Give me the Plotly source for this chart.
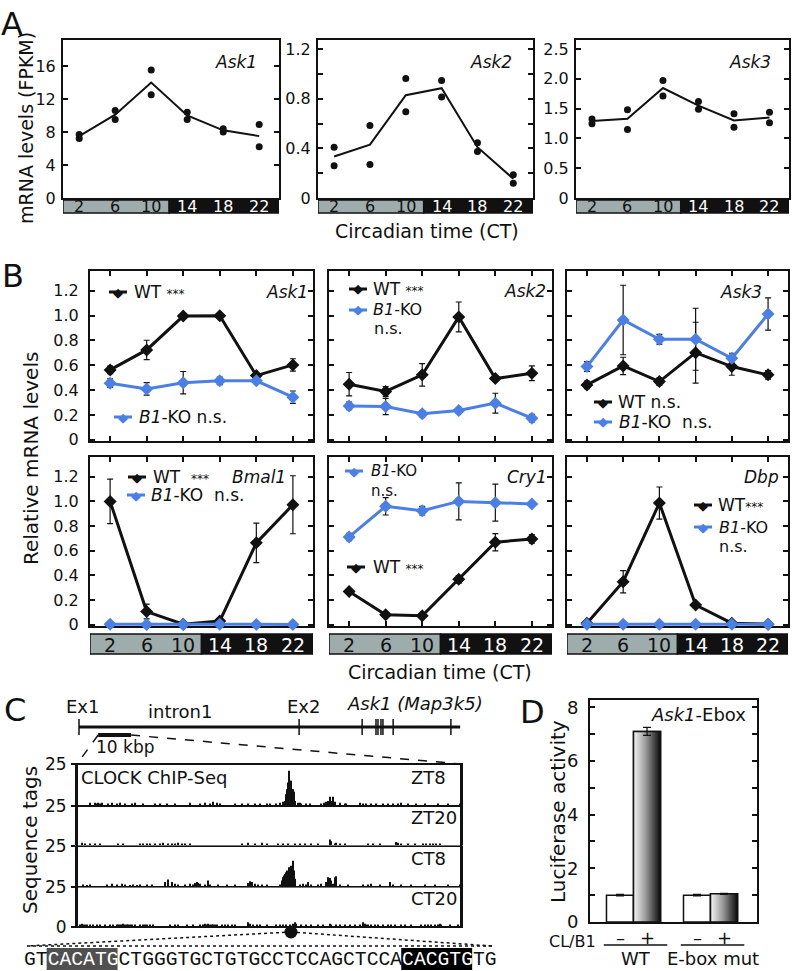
import plotly.graph_objects as go

W, H = 796, 971
FONT = "DejaVu Sans"
MONO = "Liberation Mono"
INK = "#111111"
BLUE = "#4a7fe6"
STRIP_GRAY = "#9eacab"

# ------------------------------------------------------------------ data
ct = [2, 6, 10, 14, 18, 22]
DAY_END = 12  # subjective day (grey) / night (black) boundary

# Panel A - RNA-seq FPKM (two replicates + mean)
a_ask1_rep1 = [7.7, 10.6, 15.5, 10.4, 8.4, 8.9]
a_ask1_rep2 = [7.2, 9.5, 12.5, 9.5, 8.0, 6.2]
a_ask1_mean = [7.5, 10.1, 14.0, 10.0, 8.2, 7.5]
a_ask2_rep1 = [0.41, 0.585, 0.964, 0.948, 0.446, 0.188]
a_ask2_rep2 = [0.26, 0.27, 0.695, 0.816, 0.376, 0.12]
a_ask2_mean = [0.335, 0.43, 0.83, 0.886, 0.41, 0.155]
a_ask3_rep1 = [1.325, 1.48, 1.97, 1.62, 1.415, 1.437]
a_ask3_rep2 = [1.247, 1.15, 1.71, 1.49, 1.186, 1.264]
a_ask3_mean = [1.29, 1.33, 1.845, 1.55, 1.30, 1.35]
a_genes = ["Ask1", "Ask2", "Ask3"]

# Panel B - relative mRNA levels (WT vs Bmal1-KO)
b_genes = ["Ask1", "Ask2", "Ask3", "Bmal1", "Cry1", "Dbp"]
b_ask1_wt = [0.563, 0.724, 0.997, 1.0, 0.517, 0.603]
b_ask1_wt_err = [0.03, 0.078, 0.012, 0.012, 0.02, 0.05]
b_ask1_ko = [0.456, 0.41, 0.46, 0.475, 0.475, 0.343]
b_ask1_ko_err = [0.035, 0.05, 0.09, 0.03, 0.02, 0.05]
b_ask2_wt = [0.448, 0.389, 0.523, 0.99, 0.493, 0.536]
b_ask2_wt_err = [0.094, 0.04, 0.09, 0.12, 0.02, 0.06]
b_ask2_ko = [0.273, 0.268, 0.209, 0.236, 0.295, 0.174]
b_ask2_ko_err = [0.03, 0.065, 0.025, 0.015, 0.08, 0.03]
b_ask3_wt = [0.442, 0.595, 0.469, 0.702, 0.59, 0.523]
b_ask3_wt_err = [0.03, 0.07, 0.03, 0.245, 0.07, 0.035]
b_ask3_ko = [0.59, 0.965, 0.81, 0.81, 0.657, 1.013]
b_ask3_ko_err = [0.04, 0.28, 0.04, 0.25, 0.04, 0.13]
b_bmal1_wt = [1.0, 0.107, 0.005, 0.03, 0.664, 0.973]
b_bmal1_wt_err = [0.18, 0.06, 0.005, 0.01, 0.16, 0.235]
b_bmal1_ko = [0.004, 0.003, 0.003, 0.004, 0.003, 0.003]
b_bmal1_ko_err = [0.002, 0.002, 0.002, 0.002, 0.002, 0.002]
b_cry1_wt = [0.269, 0.081, 0.073, 0.368, 0.669, 0.696]
b_cry1_wt_err = [0.01, 0.01, 0.01, 0.03, 0.07, 0.035]
b_cry1_ko = [0.712, 0.96, 0.925, 1.0, 0.99, 0.98]
b_cry1_ko_err = [0.03, 0.07, 0.035, 0.15, 0.15, 0.01]
b_dbp_wt = [0.013, 0.349, 0.987, 0.16, 0.013, 0.005]
b_dbp_wt_err = [0.005, 0.09, 0.13, 0.015, 0.005, 0.003]
b_dbp_ko = [0.004, 0.004, 0.004, 0.004, 0.004, 0.004]
b_dbp_ko_err = [0.002, 0.002, 0.002, 0.002, 0.002, 0.002]

# Panel C - gene model (kb from exon 1) and CLOCK ChIP-seq tag counts
gene_exons_kb = [0, 66.7, 85.8, 90.0, 90.6, 91.5, 92.1, 95.2, 112.7]
gene_end_kb = 115.5
scalebar_kb = [5.8, 15.8]
chip_tracks = ["ZT8", "ZT20", "CT8", "CT20"]
zt8_pos = [13, 18, 20, 21, 23, 25, 31, 35, 40, 43, 48, 55, 58, 66, 78, 83, 90, 98, 113, 123,
           128, 133, 136, 140, 143, 158, 165, 171, 178, 183, 190, 193, 199, 203, 206, 208, 209,
           210, 211, 212, 213, 214, 215, 216, 217, 218, 221, 223, 224, 229, 233, 244, 247, 249,
           251, 253, 254, 256, 258, 263, 268, 269, 283, 286, 289, 294, 299, 306, 311, 316, 321,
           324, 331, 339, 348, 361, 371, 383]
zt8_tags = [2, 2, 1.5, 2, 1.5, 2, 1.5, 2, 1.5, 2, 1.5, 1.5, 2, 1.5, 1.5, 1.5, 1.5, 1.5, 2, 1.5,
            2, 1.5, 2.5, 2, 1.5, 1.5, 1.5, 1.5, 1.5, 1.5, 1.5, 1.5, 1.5, 2, 2.5, 3, 7,
            10, 14, 21, 15, 15, 10, 10, 8.5, 3, 2, 2, 1.5, 1.5, 1.5, 1.5, 2, 2.5,
            3, 5.5, 3, 5.5, 2.5, 2, 1.5, 1.5, 2, 1.5, 1.5, 1.5, 1.5, 1.5, 1.5, 1.5, 1.5,
            2, 1.5, 1.5, 1.5, 1.5, 1.5, 1.5]
zt20_pos = [5, 8, 13, 18, 23, 41, 46, 63, 66, 70, 73, 78, 83, 86, 91, 95, 98, 101, 105, 108,
            113, 165, 171, 178, 185, 190, 201, 206, 211, 218, 223, 228, 234, 241, 253, 254, 258,
            259, 263, 268, 291, 296, 303, 319, 321, 324, 331, 338, 346, 349, 353, 356, 359, 363]
zt20_tags = [2, 1.5, 1.5, 1.5, 1.5, 1.5, 1.5, 1.5, 1.5, 1.5, 1.5, 1.5, 1.5, 2, 1.5, 1.5, 1.5,
             2, 1.5, 1.5, 1.5, 1.5, 2, 1.5, 2, 1.5, 1.5, 1.5, 1.5, 1.5, 1.5, 1.5, 1.5, 1.5, 4,
             3, 1.5, 2, 1.5, 1.5, 1.5, 1.5, 1.5, 2.5, 2, 1.5, 1.5, 1.5, 1.5, 1.5, 1.5, 1.5,
             1.5, 1.5]
ct8_pos = [6, 10, 13, 30, 35, 40, 45, 48, 53, 56, 60, 63, 70, 75, 88, 91, 95, 98, 101, 108,
           113, 116, 118, 120, 121, 123, 128, 131, 133, 141, 150, 158, 171, 173, 175, 178, 181,
           185, 190, 203, 205, 206, 207, 208, 209, 210, 211, 212, 213, 214, 215, 216, 217, 218,
           223, 226, 229, 231, 234, 241, 244, 249, 251, 253, 254, 256, 258, 259, 263, 271, 286,
           291, 294, 303, 313, 316, 324, 334, 348, 358, 371, 383]
ct8_tags = [1.5, 1, 1.5, 1.5, 2, 1.5, 2, 1.5, 1, 1.5, 1, 1.5, 1.5, 1.5, 3, 4.5, 3, 2, 1.5, 1.5,
            2, 1.5, 2.5, 3, 2.5, 2, 1.5, 4, 1.5, 1.5, 1.5, 1.5, 2.5, 3.5, 3, 2, 1.5, 1.5, 1.5,
            1.5, 4, 6, 7, 8, 9, 10, 9, 12, 9, 13, 9, 16, 10, 5, 1.5, 2, 1.5, 3, 1.5, 1.5, 2, 3,
            6, 5.5, 4, 2, 6, 6.5, 1.5, 1.5, 1.5, 1.5, 2, 1.5, 3, 1.5, 1.5, 1.5, 1.5, 1.5,
            1.5, 1.5]
ct20_pos = [3, 5, 6, 8, 10, 13, 16, 20, 23, 28, 33, 36, 40, 41, 43, 45, 46, 48, 50, 51, 53, 55,
            58, 63, 66, 68, 70, 73, 76, 93, 98, 101, 110, 116, 123, 126, 128, 130, 131, 133, 135,
            136, 138, 140, 145, 148, 151, 155, 158, 171, 173, 176, 180, 183, 190, 199, 203, 206,
            209, 213, 216, 218, 219, 224, 229, 234, 241, 246, 253, 254, 259, 263, 268, 273, 278,
            283, 286, 288, 289, 291, 294, 298, 301, 306, 311, 314, 318, 324, 328, 334, 344, 348,
            351, 354, 358, 361, 363, 364, 373, 381]
ct20_tags = [1.5, 2, 1.5, 1.5, 1.5, 1.5, 1.5, 1.5, 1.5, 1.5, 1.5, 1.5, 1.5, 1.5, 1.5, 1.5, 2,
             1.5, 1.5, 1.5, 1.5, 1.5, 1.5, 1.5, 1.5, 1.5, 1.5, 1.5, 1.5, 1.5, 1.5, 1.5, 1.5, 1.5,
             1.5, 1.5, 2, 1.5, 2, 1.5, 1.5, 1.5, 1.5, 1.5, 1.5, 1.5, 1.5, 1.5, 1.5, 3, 2, 1.5,
             1.5, 1.5, 1.5, 1.5, 1.5, 1.5, 1.5, 1.5, 2, 3, 2, 1.5, 1.5, 1.5, 1.5, 1.5, 2, 1.5,
             1.5, 1.5, 1.5, 1.5, 1.5, 1.5, 3, 2, 1.5, 1.5, 1.5, 1.5, 1.5, 1.5, 1.5, 1.5, 1.5,
             1.5, 1.5, 1.5, 1.5, 1.5, 1.5, 1.5, 1.5, 1.5, 2, 1.5, 1.5, 1.5]
ebox_pos = 214
sequence = "GTCACATGCTGGGTGCTGTGCCTCCAGCTCCACACGTGTG"
ebox_motifs = ["CACATG", "CACGTG"]

# Panel D - luciferase
d_construct = ["WT", "WT", "E-box mut", "E-box mut"]
d_clb1 = ["\u2013", "+", "\u2013", "+"]
d_values = [1.0, 7.1, 1.0, 1.05]
d_err = [0.03, 0.15, 0.03, 0.02]

# ------------------------------------------------------------------ helpers
fig = go.Figure()
layout = dict(template="none", width=W, height=H,
              margin=dict(l=0, r=0, t=0, b=0, pad=0, autoexpand=False),
              paper_bgcolor="white", plot_bgcolor="white", showlegend=False,
              font=dict(family=FONT, color=INK))
shapes, annotations = [], []


def fx(px):
    return px / W


def fy(py):
    return 1 - py / H


def refs(n):
    s = "" if n == 1 else str(n)
    return f"xaxis{s}", f"yaxis{s}", f"x{s}", f"y{s}"


def make_axes(n, box, xrange_, yrange_, xkw=None, ykw=None):
    x0, y0, x1, y1 = box
    xk, yk, xr, yr = refs(n)
    base = dict(showline=True, linecolor=INK, linewidth=2, mirror=True, showgrid=False,
                zeroline=False, ticks="", showticklabels=False, tickcolor=INK, tickwidth=1.5,
                ticklen=5, tickfont=dict(family=FONT, size=16, color=INK), fixedrange=True,
                automargin=False)
    xa = dict(base, domain=[x0 / W, x1 / W], range=xrange_, anchor=yr)
    ya = dict(base, domain=[1 - y1 / H, 1 - y0 / H], range=yrange_, anchor=xr)
    xa.update(xkw or {})
    ya.update(ykw or {})
    layout[xk] = xa
    layout[yk] = ya
    return xr, yr


def ann(x, y, text, size=17, xanchor="center", yanchor="middle", color=INK,
        xref="paper", yref="paper", angle=0, family=FONT):
    if xref == "paper":
        x = fx(x)
    if yref == "paper":
        y = fy(y)
    annotations.append(dict(x=x, y=y, xref=xref, yref=yref, text=text, showarrow=False,
                            xanchor=xanchor, yanchor=yanchor, textangle=angle,
                            font=dict(family=family, size=size, color=color), borderpad=0))


def pline(x0, y0, x1, y1, width=1.5, dash="solid", color=INK):
    shapes.append(dict(type="line", xref="paper", yref="paper", x0=fx(x0), y0=fy(y0),
                       x1=fx(x1), y1=fy(y1), line=dict(color=color, width=width, dash=dash)))


def add_strip(n, xrange_, top, bottom, size):
    xr = refs(n)[2]
    shapes.append(dict(type="rect", xref=xr, yref="paper", x0=xrange_[0], x1=DAY_END,
                       y0=fy(bottom), y1=fy(top), fillcolor=STRIP_GRAY,
                       line=dict(color=INK, width=1.5)))
    shapes.append(dict(type="rect", xref=xr, yref="paper", x0=DAY_END, x1=xrange_[1],
                       y0=fy(bottom), y1=fy(top), fillcolor=INK,
                       line=dict(color=INK, width=1.5)))
    for t in ct:
        ann(t, (top + bottom) / 2 + 0.5, str(t), size=size, xref=xr,
            color=INK if t < DAY_END else "white")


def legend_entry(cx, cy, color, text, tx, size=17):
    pline(cx - 9, cy, cx + 9, cy, width=3, color=color)
    ann(cx, cy, "\u25c6", size=13, color=color)
    ann(tx, cy, text, size=size, xanchor="left")


STARS = '<span style="font-size:12px">***</span>'

# ------------------------------------------------------------------ panel A
A_BOXES = [(63, 40, 279, 198), (318, 40, 533, 198), (576, 40, 789, 198)]
A_XRANGE = [0.2, 24.2]
a_data = [
    (a_ask1_rep1, a_ask1_rep2, a_ask1_mean, [0, 19.15], [0, 4, 8, 12, 16],
     ["0", "4", "8", "12", "16"]),
    (a_ask2_rep1, a_ask2_rep2, a_ask2_mean, [0, 1.275], [0, 0.2, 0.4, 0.6, 0.8, 1.0, 1.2],
     ["0", "", "0.4", "", "0.8", "", "1.2"]),
    (a_ask3_rep1, a_ask3_rep2, a_ask3_mean, [0, 2.65], [0, 0.5, 1.0, 1.5, 2.0, 2.5],
     ["0", "0.5", "1.0", "1.5", "2.0", "2.5"]),
]
a_label_right = [258, 513, 772]
for i, (r1, r2, mean, yrng, tv, tt) in enumerate(a_data):
    n = i + 1
    xr, yr = make_axes(n, A_BOXES[i], A_XRANGE, yrng,
                       ykw=dict(ticks="inside", mirror="ticks", tickvals=tv, ticktext=tt,
                                showticklabels=True, ticklabelstandoff=2))
    fig.add_trace(go.Scatter(x=ct, y=mean, mode="lines", line=dict(color=INK, width=2),
                             xaxis=xr, yaxis=yr, hoverinfo="skip"))
    fig.add_trace(go.Scatter(x=ct + ct, y=r1 + r2, mode="markers",
                             marker=dict(color=INK, size=7), xaxis=xr, yaxis=yr,
                             cliponaxis=False))
    add_strip(n, A_XRANGE, 200, 213, 16)
    ann(a_label_right[i], 62, f"<i>{a_genes[i]}</i>", size=17, xanchor="right")

ann(12, 24, "A", size=32)
ann(26, 128, "mRNA levels (FPKM)", size=19, angle=-90)
ann(427, 231, "Circadian time (CT)", size=19)

# ------------------------------------------------------------------ panel B
B_COLS = [(90, 313), (329, 552), (567, 788)]
B_ROWS = [(271, 441), (457, 626)]
B_XRANGE = [-0.2, 24.2]
B_YRANGE = [-0.01, 1.36]
b_data = [
    (b_ask1_wt, b_ask1_wt_err, b_ask1_ko, b_ask1_ko_err),
    (b_ask2_wt, b_ask2_wt_err, b_ask2_ko, b_ask2_ko_err),
    (b_ask3_wt, b_ask3_wt_err, b_ask3_ko, b_ask3_ko_err),
    (b_bmal1_wt, b_bmal1_wt_err, b_bmal1_ko, b_bmal1_ko_err),
    (b_cry1_wt, b_cry1_wt_err, b_cry1_ko, b_cry1_ko_err),
    (b_dbp_wt, b_dbp_wt_err, b_dbp_ko, b_dbp_ko_err),
]
b_yt = [0, 0.2, 0.4, 0.6, 0.8, 1.0, 1.2]
b_yl = ["0", "0.2", "0.4", "0.6", "0.8", "1.0", "1.2"]
b_label_pos = [(309, 292), (547, 291), (763, 292), (287, 477), (548, 477), (780, 477)]
for i, (wt, wte, ko, koe) in enumerate(b_data):
    n = 4 + i
    r, c = divmod(i, 3)
    box = (B_COLS[c][0], B_ROWS[r][0], B_COLS[c][1], B_ROWS[r][1])
    xr, yr = make_axes(
        n, box, B_XRANGE, B_YRANGE,
        xkw=dict(ticks="inside", mirror="ticks", tickvals=ct, layer="below traces"),
        ykw=dict(ticks="inside", mirror="ticks", tickvals=b_yt, ticktext=b_yl,
                 showticklabels=(c == 0), ticklabelstandoff=6, layer="below traces"))
    for vals, errs, color in [(wt, wte, INK), (ko, koe, BLUE)]:
        fig.add_trace(go.Scatter(
            x=ct, y=vals, mode="lines+markers", line=dict(color=color, width=3),
            marker=dict(symbol="diamond", size=10, color=color),
            error_y=dict(type="data", array=errs, color=INK, thickness=1.2, width=3),
            xaxis=xr, yaxis=yr, cliponaxis=False))
    if r == 1:
        add_strip(n, B_XRANGE, 634, 654, 19)
    ann(b_label_pos[i][0], b_label_pos[i][1], f"<i>{b_genes[i]}</i>", size=17,
        xanchor="right")

KO = "<i>B1</i>-KO"
legend_entry(118, 292, INK, "WT " + STARS, 133)
legend_entry(123, 417, BLUE, KO + " n.s.", 138)
legend_entry(358, 289, INK, "WT " + STARS, 372)
legend_entry(358, 310, BLUE, KO, 372, size=16)
ann(373, 329, "n.s.", size=16, xanchor="left")
legend_entry(603, 402, INK, "WT n.s.", 617)
legend_entry(603, 422, BLUE, KO + "  n.s.", 618)
legend_entry(137, 477, INK, "WT  " + STARS, 152)
legend_entry(136, 495, BLUE, KO + "  n.s.", 150)
legend_entry(354, 471, BLUE, KO, 370, size=15)
ann(370, 491, "n.s.", size=15, xanchor="left")
legend_entry(356, 567, INK, "WT " + STARS, 372)
legend_entry(703, 505, INK, "WT" + STARS, 717)
legend_entry(703, 527, BLUE, KO, 718, size=16)
ann(718, 546, "n.s.", size=16, xanchor="left")

ann(13, 276, "B", size=32)
ann(31, 459, "Relative mRNA levels", size=20, angle=-90)
ann(440, 672, "Circadian time (CT)", size=19)

# ------------------------------------------------------------------ panel C
GENE_BOX = (60, 692, 480, 762)
GENE_X0_PX, GENE_PX_PER_KB = 79, 3.3
gene_range = [(GENE_BOX[0] - GENE_X0_PX) / GENE_PX_PER_KB,
              (GENE_BOX[2] - GENE_X0_PX) / GENE_PX_PER_KB]
xr, yr = make_axes(10, GENE_BOX, gene_range, [-1, 1],
                   xkw=dict(visible=False), ykw=dict(visible=False))
gene_y_px = lambda y: (GENE_BOX[1] + GENE_BOX[3]) / 2 - y * (GENE_BOX[3] - GENE_BOX[1]) / 2
gene_x_px = lambda kb: GENE_X0_PX + kb * GENE_PX_PER_KB
fig.add_trace(go.Scatter(x=[gene_exons_kb[0], gene_end_kb], y=[0, 0], mode="lines",
                         line=dict(color=INK, width=3), xaxis=xr, yaxis=yr))
ex_x, ex_y = [], []
for e in gene_exons_kb:
    ex_x += [e, e, None]
    ex_y += [-0.23, 0.23, None]
fig.add_trace(go.Scatter(x=ex_x, y=ex_y, mode="lines", line=dict(color=INK, width=1.5),
                         xaxis=xr, yaxis=yr))
SB_Y = -0.23
fig.add_trace(go.Scatter(x=scalebar_kb, y=[SB_Y, SB_Y], mode="lines",
                         line=dict(color=INK, width=4), xaxis=xr, yaxis=yr))
ann(13.9, -0.57, "10 kbp", size=17, xref=xr, yref=yr)
ann(gene_exons_kb[0] + 1, 0.6, "Ex1", size=18, xref=xr, yref=yr)
ann(30.6, 0.43, "intron1", size=18, xref=xr, yref=yr)
ann(gene_exons_kb[1] + 1.2, 0.6, "Ex2", size=18, xref=xr, yref=yr)
ann(101.8, 0.66, "<i>Ask1 (Map3k5)</i>", size=18, xref=xr, yref=yr)

CHIP_X = (77, 461)
CHIP_ROWS = [(764, 806), (806, 846), (846, 887), (887, 927)]
chip_data = [(zt8_pos, zt8_tags), (zt20_pos, zt20_tags), (ct8_pos, ct8_tags),
             (ct20_pos, ct20_tags)]
chip_label_y = [777, 817, 858, 898]
for k, (pos, tags) in enumerate(chip_data):
    n = 11 + k
    top, bottom = CHIP_ROWS[k]
    last = k == len(chip_data) - 1
    xr, yr = make_axes(
        n, (CHIP_X[0], top, CHIP_X[1], bottom), [0, CHIP_X[1] - CHIP_X[0]], [0, 25],
        xkw=dict(linewidth=1, linecolor="#777777" if k == 2 else INK),
        ykw=dict(linewidth=2, ticks="outside", ticklen=4, mirror=True,
                 tickvals=[0, 25] if last else [25], showticklabels=True,
                 tickfont=dict(family=FONT, size=17, color=INK), ticklabelstandoff=1))
    fig.add_trace(go.Bar(x=pos, y=tags, width=1.2, marker=dict(color=INK, line=dict(width=0)),
                         xaxis=xr, yaxis=yr))
    ann(410, chip_label_y[k], chip_tracks[k], size=18, xanchor="left")

# outer frame of the ChIP window
shapes.append(dict(type="rect", xref="paper", yref="paper", x0=fx(CHIP_X[0]),
                   x1=fx(CHIP_X[1]), y0=fy(CHIP_ROWS[-1][1]), y1=fy(CHIP_ROWS[0][0]),
                   line=dict(color=INK, width=2)))

# E-box marker below the ChIP window (own overlay axis so it is not clipped)
MARK_BOX = (CHIP_X[0], 927, CHIP_X[1], 937)
xr, yr = make_axes(16, MARK_BOX, [0, CHIP_X[1] - CHIP_X[0]], [-1, 1],
                   xkw=dict(visible=False), ykw=dict(visible=False))
fig.add_trace(go.Scatter(x=[ebox_pos], y=[0], mode="markers",
                         marker=dict(color=INK, size=13), xaxis=xr, yaxis=yr,
                         cliponaxis=False))
circ_px_x = CHIP_X[0] + ebox_pos
circ_px_y = (MARK_BOX[1] + MARK_BOX[3]) / 2
pline(circ_px_x, circ_px_y, 27, 946, dash="dot")
pline(circ_px_x, circ_px_y, 492, 946, dash="dot")
pline(27, 946, 492, 946, dash="dot")

ann(80, 777, "CLOCK ChIP-Seq", size=18, xanchor="left")
# zoom lines from the scale bar to the ChIP window
sb_px_y = gene_y_px(SB_Y)
pline(gene_x_px(scalebar_kb[0]), sb_px_y, CHIP_X[0], CHIP_ROWS[0][0], dash="dash")
pline(gene_x_px(scalebar_kb[1]), sb_px_y, CHIP_X[1], CHIP_ROWS[0][0], dash="dash")

# sequence with highlighted E-boxes
SEQ_X0, SEQ_Y, SEQ_SIZE = 23, 959.5, 19.7
cw = 0.6 * SEQ_SIZE
seq_html = sequence
for motif, fill in zip(ebox_motifs, ["#505050", "#000000"]):
    start = sequence.find(motif)
    shapes.append(dict(type="rect", xref="paper", yref="paper",
                       x0=fx(SEQ_X0 + start * cw), x1=fx(SEQ_X0 + (start + len(motif)) * cw),
                       y0=fy(970), y1=fy(948), fillcolor=fill, line=dict(width=0),
                       layer="below"))
    seq_html = seq_html.replace(motif, f'<span style="color:white">{motif}</span>')
ann(SEQ_X0, SEQ_Y, seq_html, size=SEQ_SIZE, xanchor="left", family=MONO)

ann(15, 710, "C", size=32)
ann(30, 840, "Sequence tags", size=20, angle=-90)

# ------------------------------------------------------------------ panel D
GROUP_GAP = 2.85
groups = list(dict.fromkeys(d_construct))
d_pos = [groups.index(g) * GROUP_GAP + (1 if s == "+" else 0)
         for g, s in zip(d_construct, d_clb1)]
xr, yr = make_axes(15, (590, 700, 757, 922), [-1.11, 5.07], [0, 8.27],
                   ykw=dict(ticks="inside", mirror="ticks", tickvals=list(range(9)),
                            ticktext=["0", "", "2", "", "4", "", "6", "", "8"],
                            showticklabels=True, ticklabelstandoff=6,
                            tickfont=dict(family=FONT, size=18, color=INK)))
fig.add_trace(go.Bar(x=d_pos, y=d_values, width=1.0,
                     marker=dict(color="white", line=dict(color=INK, width=1.5)),
                     xaxis=xr, yaxis=yr))
for p, v, s in zip(d_pos, d_values, d_clb1):
    if s == "+":
        fig.add_trace(go.Scatter(
            x=[p - 0.5, p + 0.5, p + 0.5, p - 0.5, p - 0.5], y=[0, 0, v, v, 0],
            mode="lines", fill="toself", line=dict(color=INK, width=1.5),
            fillgradient=dict(type="horizontal",
                              colorscale=[[0, "#f4f4f4"], [0.45, "#9a9a9a"], [1, "#0a0a0a"]]),
            xaxis=xr, yaxis=yr))
fig.add_trace(go.Scatter(x=d_pos, y=d_values, mode="markers",
                         marker=dict(size=1, color="rgba(0,0,0,0)"),
                         error_y=dict(type="data", array=d_err, color=INK, thickness=1.3,
                                      width=4),
                         xaxis=xr, yaxis=yr, cliponaxis=False))
for p, s in zip(d_pos, d_clb1):
    ann(p, 937, s, size=18, xref=xr)
for g in groups:
    ps = [p for p, c in zip(d_pos, d_construct) if c == g]
    shapes.append(dict(type="line", xref=xr, yref="paper", x0=min(ps) - 0.6,
                       x1=max(ps) + 0.75, y0=fy(945), y1=fy(945),
                       line=dict(color=INK, width=1.3)))
    ann((min(ps) + max(ps)) / 2 + 0.1, 958.5, g, size=18, xref=xr)
ann(572, 941, "CL/B1", size=16)
ann(747, 714, "<i>Ask1</i>-Ebox", size=18, xanchor="right")
ann(558, 812, "Luciferase activity", size=20, angle=-90)
ann(532, 712, "D", size=32)

layout["shapes"] = shapes
layout["annotations"] = annotations
fig.update_layout(**layout)
# the page itself should not add the browser's default 8px body margin
fig.write_html("out.html", config={"displayModeBar": False},
               post_script="document.body.style.margin='0px';")
